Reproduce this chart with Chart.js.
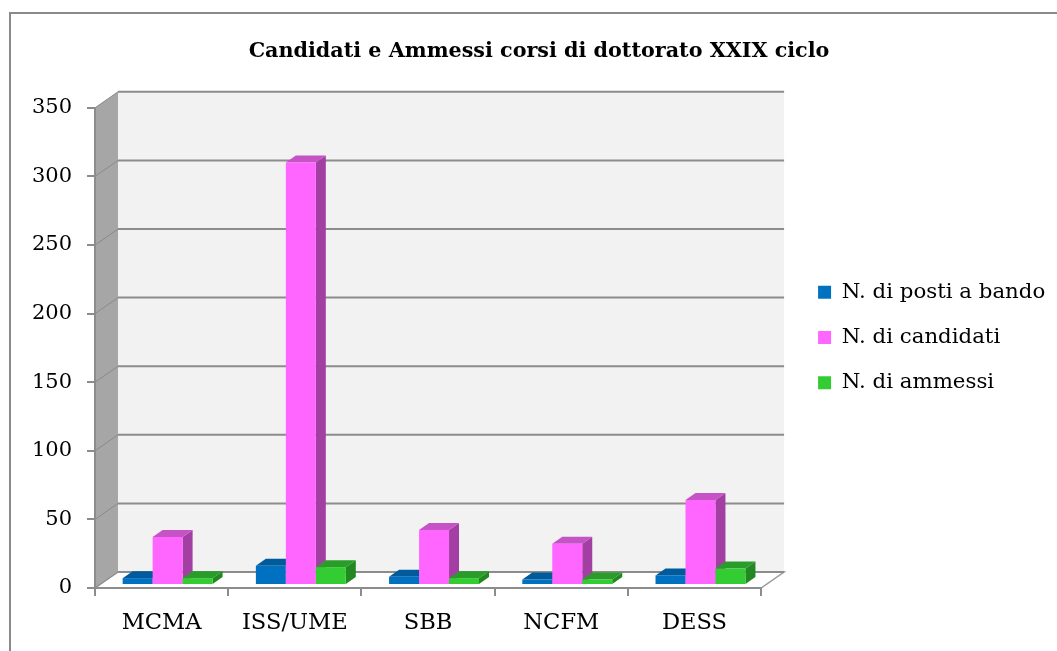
<!DOCTYPE html>
<html>
<head>
<meta charset="utf-8">
<script src="https://cdn.jsdelivr.net/npm/chart.js@4.4.1/dist/chart.umd.min.js"></script>
<style>
  html, body { margin: 0; padding: 0; background: #fff; }
  #wrap { position: relative; width: 1057px; height: 651px; overflow: hidden; }
  #frame { position: absolute; left: 9px; top: 12px; width: 1200px; height: 800px; border: 2px solid #8a8a8a; }
  #c { position: absolute; left: 0; top: 0; }
</style>
</head>
<body>
<div id="wrap">
  <div id="frame"></div>
  <canvas id="c" width="1057" height="651"></canvas>
</div>
<script>
var corsi = ['MCMA', 'ISS/UME', 'SBB', 'NCFM', 'DESS'];
var postiBando = [5, 14, 6, 4, 7];
var candidati = [35, 308, 40, 30, 62];
var ammessi = [5, 13, 5, 4, 12];
var yTicks = [0, 50, 100, 150, 200, 250, 300, 350];
var serie = ['N. di posti a bando', 'N. di candidati', 'N. di ammessi'];

var serif = '"DejaVu Serif", "Liberation Serif", serif';
var legendSize = 21.3;

// depth of the floor / walls, of the bars and where the bars sit
var DX = 23, DY = -16;
var BX = 6, BY = -3;
var BDX = 10, BDY = -7;

var colori = [
  { front: '#0070c0', top: '#005a9c', side: '#004f88' },
  { front: '#ff66ff', top: '#c653c6', side: '#a33fa3' },
  { front: '#33cc33', top: '#2a9c2a', side: '#228822' }
];

// legend box near x=819, plot ends at x=762
var mctx = document.createElement('canvas').getContext('2d');
mctx.font = legendSize + 'px ' + serif;
var maxText = Math.max.apply(null, serie.map(function(s) { return mctx.measureText(s).width; }));
var legendW = 24 + 13 + legendSize / 2 + maxText;
var padRight = Math.max(0, 1057 - 798 - legendW);
var padLeft = 21 + padRight; // keeps the title centred near x=539

function poly(ctx, pts, fill, stroke, lw) {
  ctx.beginPath();
  ctx.moveTo(pts[0][0], pts[0][1]);
  for (var i = 1; i < pts.length; i++) ctx.lineTo(pts[i][0], pts[i][1]);
  ctx.closePath();
  if (fill) { ctx.fillStyle = fill; ctx.fill(); }
  if (stroke) { ctx.strokeStyle = stroke; ctx.lineWidth = lw || 1; ctx.stroke(); }
}

var box3d = {
  id: 'box3d',
  beforeDraw: function(chart) {
    var ctx = chart.ctx, xs = chart.scales.x, ys = chart.scales.y;
    var l = xs.left, r = xs.right;
    var y0 = ys.getPixelForValue(0), yTop = ys.getPixelForValue(yTicks[yTicks.length - 1]);
    ctx.save();
    // back wall
    poly(ctx, [[l + DX, yTop + DY], [r + DX, yTop + DY], [r + DX, y0 + DY], [l + DX, y0 + DY]], '#f2f2f2');
    // side wall
    poly(ctx, [[l, yTop], [l + DX, yTop + DY], [l + DX, y0 + DY], [l, y0]], '#a6a6a6');
    // floor
    poly(ctx, [[l, y0], [r, y0], [r + DX, y0 + DY], [l + DX, y0 + DY]], '#ffffff', '#9a9a9a', 1.5);
    // grid lines
    yTicks.forEach(function(v) {
      var y = ys.getPixelForValue(v);
      ctx.strokeStyle = '#8c8c8c';
      ctx.lineWidth = 2;
      ctx.beginPath();
      ctx.moveTo(l + DX, y + DY);
      ctx.lineTo(r + DX, y + DY);
      ctx.stroke();
      ctx.strokeStyle = '#8a8a8a';
      ctx.lineWidth = 1;
      ctx.beginPath();
      ctx.moveTo(l, y);
      ctx.lineTo(l + DX, y + DY);
      ctx.stroke();
    });
    ctx.restore();
  },
  beforeDatasetsDraw: function(chart) {
    var ctx = chart.ctx;
    var n = chart.data.labels.length;
    ctx.save();
    for (var i = 0; i < n; i++) {
      for (var d = 0; d < chart.data.datasets.length; d++) {
        var el = chart.getDatasetMeta(d).data[i];
        var c = colori[d];
        var a = el.x - el.width / 2 + BX, b = el.x + el.width / 2 + BX;
        var t = el.y + BY, bo = el.base + BY;
        poly(ctx, [[b, t], [b + BDX, t + BDY], [b + BDX, bo + BDY], [b, bo]], c.side);
        poly(ctx, [[a, t], [b, t], [b + BDX, t + BDY], [a + BDX, t + BDY]], c.top);
        poly(ctx, [[a, t], [b, t], [b, bo], [a, bo]], c.front);
      }
    }
    ctx.restore();
    return false;
  }
};

new Chart(document.getElementById('c'), {
  type: 'bar',
  data: {
    labels: corsi,
    datasets: [
      { label: serie[0], data: postiBando, backgroundColor: colori[0].front },
      { label: serie[1], data: candidati, backgroundColor: colori[1].front },
      { label: serie[2], data: ammessi, backgroundColor: colori[2].front }
    ]
  },
  plugins: [box3d],
  options: {
    responsive: false,
    animation: false,
    datasets: { bar: { categoryPercentage: 0.675, barPercentage: 1 } },
    layout: { padding: { top: 24, right: padRight, bottom: 0, left: padLeft } },
    plugins: {
      title: {
        display: true,
        text: 'Candidati e Ammessi corsi di dottorato XXIX ciclo',
        color: '#000',
        font: { family: serif, size: 20.7, weight: 'bold' },
        padding: { top: 15, bottom: 44 }
      },
      legend: {
        position: 'right',
        align: 'center',
        labels: {
          color: '#000',
          font: { family: serif, size: legendSize },
          boxWidth: 13,
          boxHeight: 13,
          padding: 24
        }
      },
      tooltip: { enabled: false }
    },
    scales: {
      x: {
        grid: { display: true, drawOnChartArea: false, drawTicks: true, tickLength: 8, color: '#8c8c8c', lineWidth: 2, offset: true },
        border: { display: true, color: '#8c8c8c', width: 2 },
        ticks: { color: '#000', font: { family: serif, size: 22.6 }, padding: 14, maxRotation: 0 },
        afterFit: function(s) { s.height = 63; }
      },
      y: {
        min: 0,
        max: 350,
        afterBuildTicks: function(s) { s.ticks = yTicks.map(function(v) { return { value: v }; }); },
        grid: { display: true, drawOnChartArea: false, drawTicks: true, tickLength: 8, color: '#8c8c8c', lineWidth: 2 },
        border: { display: true, color: '#8c8c8c', width: 2 },
        ticks: { color: '#000', font: { family: serif, size: 21 }, padding: 15 },
        afterFit: function(s) { s.width = 95 - padLeft; }
      },
      gap: {
        position: 'right',
        display: false,
        afterFit: function(s) { s.width = 33; }
      }
    }
  }
});
</script>
</body>
</html>
